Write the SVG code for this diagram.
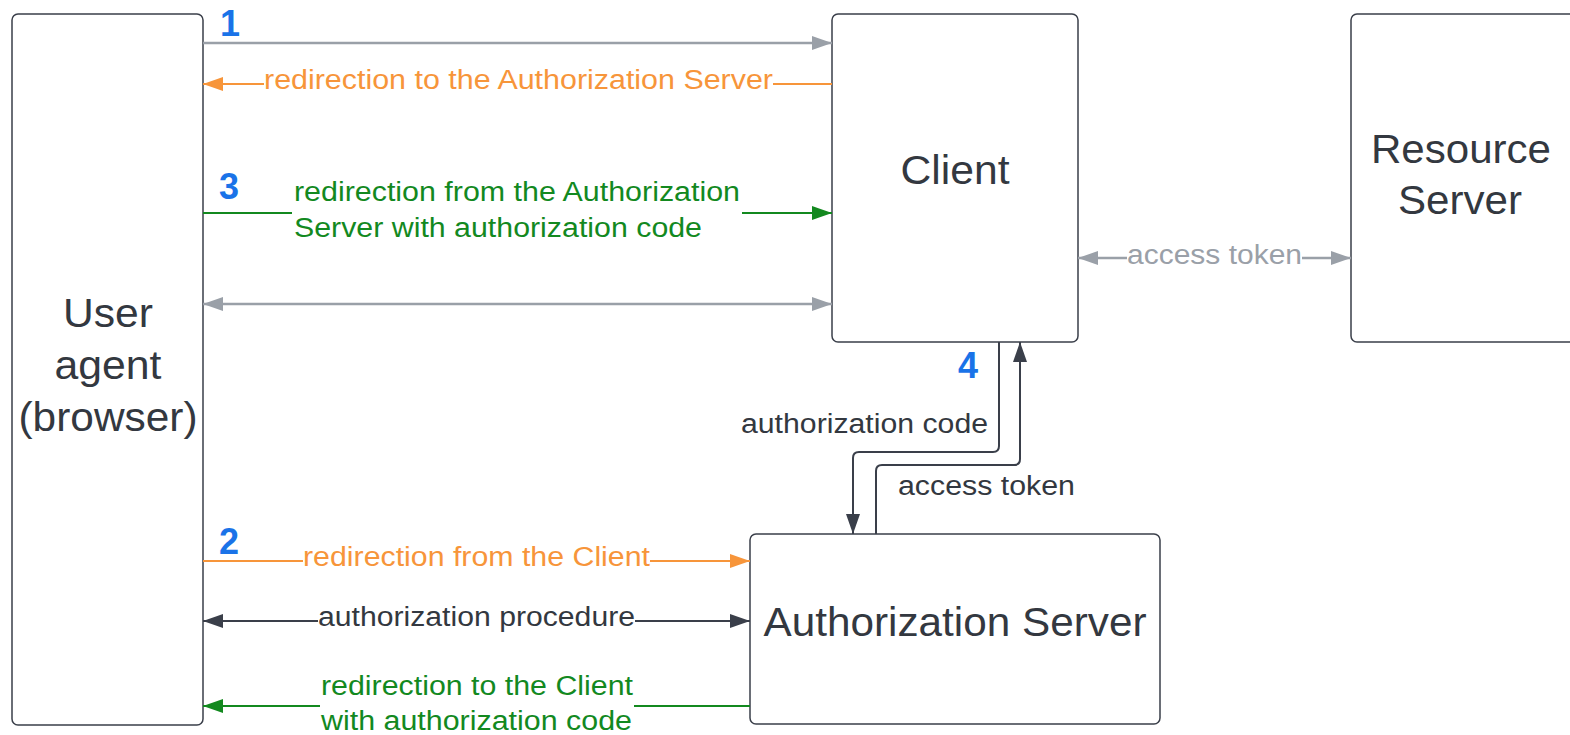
<svg xmlns="http://www.w3.org/2000/svg" width="1570" height="735" viewBox="0 0 1570 735">
  <style>
    .box { fill: #ffffff; stroke: #3a3f4a; stroke-width: 1.5; }
    .node { font-family: "Liberation Sans", Arial, sans-serif; fill: #333840; text-anchor: middle; }
    .lbl { font-family: "Liberation Sans", Arial, sans-serif; font-size: 27px; text-anchor: start; }
    .num { font-family: "Liberation Sans", Arial, sans-serif; font-size: 36px; font-weight: bold; fill: #1a73e8; }
    .gray { stroke: #9aa0a8; fill: none; stroke-width: 2.5; }
    .orange { stroke: #f7953a; fill: none; stroke-width: 2; }
    .green { stroke: #13891f; fill: none; stroke-width: 2; }
    .dark { stroke: #3a3f4a; fill: none; stroke-width: 2; }
    .bg { fill: #ffffff; }
  </style>
  <defs>
    <marker id="aGray" viewBox="0 0 20 14" refX="20" refY="7" markerWidth="20" markerHeight="14" markerUnits="userSpaceOnUse" orient="auto-start-reverse">
      <path d="M0,0 L20,7 L0,14 Z" fill="#9aa0a8"/>
    </marker>
    <marker id="aOrange" viewBox="0 0 20 14" refX="20" refY="7" markerWidth="20" markerHeight="14" markerUnits="userSpaceOnUse" orient="auto-start-reverse">
      <path d="M0,0 L20,7 L0,14 Z" fill="#f7953a"/>
    </marker>
    <marker id="aGreen" viewBox="0 0 20 14" refX="20" refY="7" markerWidth="20" markerHeight="14" markerUnits="userSpaceOnUse" orient="auto-start-reverse">
      <path d="M0,0 L20,7 L0,14 Z" fill="#13891f"/>
    </marker>
    <marker id="aDark" viewBox="0 0 20 14" refX="20" refY="7" markerWidth="20" markerHeight="14" markerUnits="userSpaceOnUse" orient="auto-start-reverse">
      <path d="M0,0 L20,7 L0,14 Z" fill="#3a3f4a"/>
    </marker>
  </defs>

  <rect width="1570" height="735" fill="#ffffff"/>

  <!-- nodes -->
  <g id="user-agent">
    <rect class="box" x="12" y="14" width="191" height="711" rx="6"/>
    <text class="node" font-size="40" x="108" y="327" textLength="90" lengthAdjust="spacingAndGlyphs">User</text>
    <text class="node" font-size="40" x="108" y="379" textLength="107" lengthAdjust="spacingAndGlyphs">agent</text>
    <text class="node" font-size="40" x="108" y="431" textLength="179" lengthAdjust="spacingAndGlyphs">(browser)</text>
  </g>
  <g id="client">
    <rect class="box" x="832" y="14" width="246" height="328" rx="6"/>
    <text class="node" font-size="41" x="955" y="184" textLength="109" lengthAdjust="spacingAndGlyphs">Client</text>
  </g>
  <g id="resource-server">
    <rect class="box" x="1351" y="14" width="230" height="328" rx="6"/>
    <text class="node" font-size="40" x="1461" y="163" textLength="180" lengthAdjust="spacingAndGlyphs">Resource</text>
    <text class="node" font-size="40" x="1460" y="214" textLength="124" lengthAdjust="spacingAndGlyphs">Server</text>
  </g>
  <g id="authorization-server">
    <rect class="box" x="750" y="534" width="410" height="190" rx="6"/>
    <text class="node" font-size="41" x="955" y="636" textLength="383" lengthAdjust="spacingAndGlyphs">Authorization Server</text>
  </g>

  <!-- connectors -->
  <g id="connectors">
    <!-- 1: user agent to client -->
    <line class="gray" x1="203" y1="43" x2="832" y2="43" marker-end="url(#aGray)"/>
    <text class="num" x="220" y="36">1</text>

    <!-- redirect back to the authorization server -->
    <line class="orange" x1="832" y1="84" x2="203" y2="84" marker-end="url(#aOrange)"/>
    <rect class="bg" x="264" y="64" width="509" height="36"/>
    <text class="lbl" fill="#f7953a" x="264" y="89" textLength="509" lengthAdjust="spacingAndGlyphs">redirection to the Authorization Server</text>

    <!-- 3: back from the authorization server -->
    <line class="green" x1="203" y1="213" x2="832" y2="213" marker-end="url(#aGreen)"/>
    <rect class="bg" x="292" y="172" width="450" height="72"/>
    <text class="lbl" fill="#13891f" x="294" y="201" textLength="446" lengthAdjust="spacingAndGlyphs">redirection from the Authorization</text>
    <text class="lbl" fill="#13891f" x="294" y="237" textLength="408" lengthAdjust="spacingAndGlyphs">Server with authorization code</text>
    <text class="num" x="219" y="199">3</text>

    <!-- user agent and client exchange -->
    <line class="gray" x1="203" y1="304" x2="832" y2="304" marker-start="url(#aGray)" marker-end="url(#aGray)"/>

    <!-- client and resource server -->
    <line class="gray" x1="1078" y1="258" x2="1351" y2="258" marker-start="url(#aGray)" marker-end="url(#aGray)"/>
    <rect class="bg" x="1127" y="240" width="175" height="34"/>
    <text class="lbl" fill="#9aa0a8" x="1127" y="264" textLength="175" lengthAdjust="spacingAndGlyphs">access token</text>

    <!-- 4: client and authorization server -->
    <path class="dark" d="M999,342 V446 Q999,452 993,452 H859 Q853,452 853,458 V534" marker-end="url(#aDark)"/>
    <path class="dark" d="M876,534 V471 Q876,465 882,465 H1014 Q1020,465 1020,459 V342" marker-end="url(#aDark)"/>
    <text class="num" x="958" y="378">4</text>
    <text class="lbl" fill="#333840" x="741" y="433" textLength="247" lengthAdjust="spacingAndGlyphs">authorization code</text>
    <text class="lbl" fill="#333840" x="898" y="495" textLength="177" lengthAdjust="spacingAndGlyphs">access token</text>

    <!-- 2: user agent to authorization server -->
    <line class="orange" x1="203" y1="561" x2="750" y2="561" marker-end="url(#aOrange)"/>
    <rect class="bg" x="303" y="542" width="347" height="34"/>
    <text class="lbl" fill="#f7953a" x="303" y="566" textLength="347" lengthAdjust="spacingAndGlyphs">redirection from the Client</text>
    <text class="num" x="219" y="554">2</text>

    <!-- authorization procedure -->
    <line class="dark" x1="203" y1="621" x2="750" y2="621" marker-start="url(#aDark)" marker-end="url(#aDark)"/>
    <rect class="bg" x="318" y="603" width="317" height="34"/>
    <text class="lbl" fill="#333840" x="318" y="626" textLength="317" lengthAdjust="spacingAndGlyphs">authorization procedure</text>

    <!-- back to the client -->
    <line class="green" x1="750" y1="706" x2="203" y2="706" marker-end="url(#aGreen)"/>
    <rect class="bg" x="320" y="668" width="314" height="67"/>
    <text class="lbl" fill="#13891f" x="321" y="695" textLength="312" lengthAdjust="spacingAndGlyphs">redirection to the Client</text>
    <text class="lbl" fill="#13891f" x="321" y="730" textLength="311" lengthAdjust="spacingAndGlyphs">with authorization code</text>
  </g>
</svg>
